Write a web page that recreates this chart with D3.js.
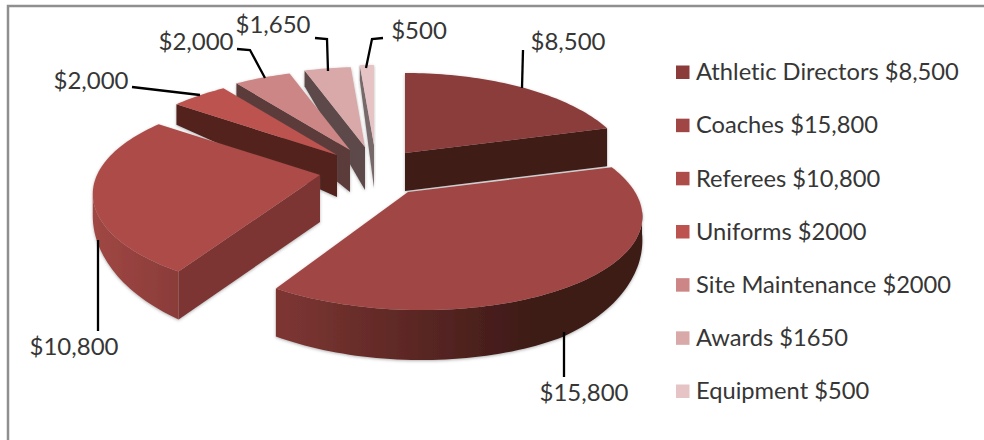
<!DOCTYPE html>
<html>
<head>
<meta charset="utf-8">
<script src="https://cdnjs.cloudflare.com/ajax/libs/d3/7.8.5/d3.min.js"></script>
<style>
html, body { margin: 0; padding: 0; background: #fff; }
svg { display: block; }
text { font-family: Lato, "Open Sans", sans-serif; fill: #363636; font-variant-ligatures: none; }
</style>
</head>
<body>
<div class="mainCont"></div>
<script>
var categories = ["Athletic Directors", "Coaches", "Referees", "Uniforms", "Site Maintenance", "Awards", "Equipment"];
var values = [8500, 15800, 10800, 2000, 2000, 1650, 500];
var legendValues = ["$8,500", "$15,800", "$10,800", "$2000", "$2000", "$1650", "$500"];

var width = 984, height = 440;

// colours per slice: top face, flat wall, curved wall left/right
var topColors = ["#8b3c3a", "#a04644", "#ad4c49", "#bc534f", "#cc8685", "#d9a9a9", "#e6c4c6"];
var wallColors = ["#3f1a17", "#3f1a17", "#7b3432", "#52211e", "#5b3a3a", "#5d4a48", "#77696b"];
var curveColors = [["#3f1a17", "#3f1a17"], ["#7e3633", "#3e1a17"], ["#a04744", "#8a3c39"],
    ["#52211e", "#52211e"], ["#5b3a3a", "#5b3a3a"], ["#5d4a48", "#5d4a48"], ["#77696b", "#77696b"]];

// where each exploded slice has its apex on the page, with its own radius / shear / apex wall height
var sliceLayout = [
    { cx: 405, cy: 153, r: 221, shear: 0, apex: 38 },
    { cx: 408, cy: 192, r: 227, shear: 14, apex: 48 },
    { cx: 320, cy: 175, r: 223, shear: 0, apex: 47 },
    { cx: 337, cy: 155, r: 222, shear: 0, apex: 42 },
    { cx: 350, cy: 150, r: 222, shear: 0, apex: 42 },
    { cx: 365, cy: 147, r: 222, shear: 0, apex: 43 },
    { cx: 374, cy: 145, r: 222, shear: 0, apex: 43 }
];

// leader lines and their text, in draw order of the slices
var labelLayout = [
    { x: 568, y: 42, line: [[523, 50], [522, 88]] },
    { x: 584, y: 393, line: [[564, 332], [564, 377]] },
    { x: 74, y: 347, line: [[98, 240], [98, 331]] },
    { x: 91, y: 81, line: [[132, 87], [200, 95]] },
    { x: 196, y: 42, line: [[237, 49], [250, 50], [265, 78]] },
    { x: 273, y: 25, line: [[315, 38], [327, 39], [328, 71]] },
    { x: 419, y: 31, line: [[383, 38], [372, 39], [366, 68]] }
];

var ryBase = 95.4, persp = 0.192;
// rim wall height by how far forward the rim point sits
var rimDepth = d3.scaleLinear()
    .domain([-1, -0.6, -0.27, 0.2, 0.5, 0.85, 1])
    .range([15, 20, 38, 22, 33, 48, 50]);

var svg = d3.select(".mainCont").append("svg")
    .attr("width", width)
    .attr("height", height);

var defs = svg.append("defs");
var shadow = defs.append("filter").attr("id", "soft")
    .attr("x", "-10%").attr("y", "-10%").attr("width", "120%").attr("height", "120%");
shadow.append("feDropShadow")
    .attr("dx", 0).attr("dy", 1).attr("stdDeviation", 1.5)
    .attr("flood-color", "#555").attr("flood-opacity", 0.45);

// frame, only top and left are in the crop
svg.append("path")
    .attr("d", "M8,440V6H984")
    .attr("fill", "none")
    .attr("stroke", "#8f8f8f")
    .attr("stroke-width", 2.5);

var pie = d3.pie().sort(null).value(function(d) { return d; });
var arcs = pie(values);

var line = d3.line();

// angle + radius fraction -> page coordinates, d3 pie angle convention
function project(slice, a, rr, drop) {
    var px = Math.sin(a) * rr, py = -Math.cos(a) * rr;
    var s = 1 / (1 - persp * py);
    var x = slice.cx + px * slice.r * s + slice.shear * py;
    var y = slice.cy + py * ryBase * s;
    if (drop) y += rr === 0 ? slice.apex : rimDepth(py);
    return [x, y];
}

function wallPath(slice, a) {
    return line([project(slice, a, 0), project(slice, a, 1),
        project(slice, a, 1, true), project(slice, a, 0, true)]) + "Z";
}

function rimAngles(d) {
    var n = Math.max(4, Math.ceil((d.endAngle - d.startAngle) * 40));
    return d3.range(n + 1).map(function(i) {
        return d.startAngle + (d.endAngle - d.startAngle) * i / n;
    });
}

// back slices first, then the big front ones
var drawOrder = [0, 6, 5, 4, 3, 2, 1];

drawOrder.forEach(function(i) {
    var d = arcs[i], slice = sliceLayout[i];
    var g = svg.append("g").attr("class", "slice").attr("filter", "url(#soft)");

    // flat side walls, only the ones turned to the viewer
    if (Math.sin(d.startAngle) < 0) {
        g.append("path").attr("d", wallPath(slice, d.startAngle)).attr("fill", wallColors[i]);
    }
    if (Math.sin(d.endAngle) > 0) {
        g.append("path").attr("d", wallPath(slice, d.endAngle)).attr("fill", wallColors[i]);
    }

    // curved rim wall
    var front = rimAngles(d).filter(function(a) { return -Math.cos(a) > persp * 0.9; });
    if (front.length > 1) {
        var upper = front.map(function(a) { return project(slice, a, 1); });
        var lower = front.map(function(a) { return project(slice, a, 1, true); }).reverse();
        var xr = d3.extent(upper, function(p) { return p[0]; });
        var gradId = "rim" + i;
        var grad = defs.append("linearGradient").attr("id", gradId)
            .attr("gradientUnits", "userSpaceOnUse")
            .attr("x1", xr[0]).attr("x2", xr[1]).attr("y1", 0).attr("y2", 0);
        grad.append("stop").attr("offset", 0).attr("stop-color", curveColors[i][0]);
        grad.append("stop").attr("offset", i === 1 ? 0.7 : 1).attr("stop-color", curveColors[i][1]);
        g.append("path")
            .attr("d", line(upper.concat(lower)) + "Z")
            .attr("fill", "url(#" + gradId + ")");
    }

    // top face
    var rim = rimAngles(d).map(function(a) { return project(slice, a, 1); });
    g.append("path")
        .attr("d", line([project(slice, 0, 0)].concat(rim)) + "Z")
        .attr("fill", topColors[i]);
});

// leader lines and value labels
var money = d3.format("$,");

svg.selectAll(".leader")
    .data(labelLayout)
    .enter().append("path")
    .attr("class", "leader")
    .attr("d", function(d) { return line(d.line); })
    .attr("fill", "none")
    .attr("stroke", "#000")
    .attr("stroke-width", 2.3);

svg.selectAll(".valueLabel")
    .data(values)
    .enter().append("text")
    .attr("class", "valueLabel")
    .attr("x", function(d, i) { return labelLayout[i].x; })
    .attr("y", function(d, i) { return labelLayout[i].y; })
    .attr("dy", ".35em")
    .attr("text-anchor", "middle")
    .style("font-size", "24px")
    .text(function(d) { return money(d); });

// legend
var legendY = d3.scalePoint().domain(categories).range([72, 391]);

svg.selectAll(".swatch")
    .data(categories)
    .enter().append("rect")
    .attr("class", "swatch")
    .attr("x", 676)
    .attr("y", function(d) { return legendY(d) - 6.5; })
    .attr("width", 13.5)
    .attr("height", 13.5)
    .attr("fill", function(d, i) { return topColors[i]; });

svg.selectAll(".legendLabel")
    .data(categories)
    .enter().append("text")
    .attr("class", "legendLabel")
    .attr("x", 696)
    .attr("y", function(d) { return legendY(d); })
    .attr("dy", ".35em")
    .style("font-size", "23.7px")
    .text(function(d, i) { return d + " " + legendValues[i]; });
</script>
</body>
</html>
